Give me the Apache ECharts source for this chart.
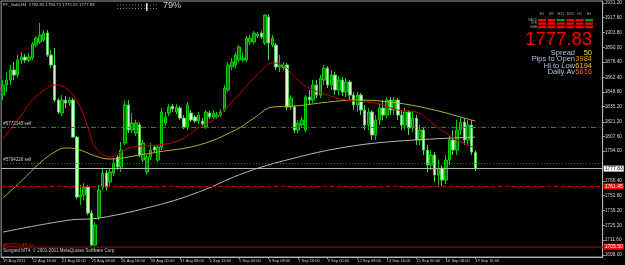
<!DOCTYPE html>
<html><head><meta charset="utf-8">
<script src="https://cdn.jsdelivr.net/npm/echarts@6/dist/echarts.min.js"></script>
<style>html,body{margin:0;padding:0;background:#000;}#c{width:625px;height:265px;}</style>
</head><body><div id="c"></div>
<script>
// ---- data ----
const OPEN = [
1845.9,1855.2,1859.8,1869.1,1864.5,1878.3,1881.1,1878.3,1880.2,1892.2,
1895.0,1896.9,1903.3,1883.0,1873.7,1841.3,1829.3,1841.3,1838.5,1841.3,
1807.0,1751.5,1753.3,1760.7,1736.7,1707.0,1733.0,1760.7,1773.7,1765.4,
1773.7,1788.5,1779.3,1801.5,1836.7,1813.5,1810.7,1818.2,1785.7,1774.6,
1788.5,1797.8,1785.7,1797.8,1820.0,1829.3,1835.7,1830.2,1833.9,1824.6,
1816.3,1829.3,1825.6,1821.9,1821.9,1816.3,1829.3,1825.6,1825.6,1827.4,
1832.0,1850.6,1871.9,1873.7,1878.3,1878.3,1878.3,1895.0,1895.0,1900.6,
1903.3,1894.1,1918.2,1892.2,1892.2,1871.9,1871.0,1873.7,1834.8,1834.8,
1813.5,1818.2,1813.5,1844.1,1841.3,1855.2,1845.9,1859.8,1870.9,1855.2,
1864.5,1850.6,1859.8,1848.7,1858.0,1845.9,1836.7,1845.9,1832.0,1818.2,
1830.2,1808.9,1822.8,1833.9,1827.4,1841.3,1832.0,1841.3,1827.4,1818.2,
1830.2,1815.4,1824.6,1804.3,1813.5,1795.0,1781.1,1790.4,1771.9,1778.3,
1767.2,1785.7,1804.3,1795.0,1813.5,1820.9,1804.3,1818.2,1792.85];
const CLOSE = [
1855.2,1859.8,1869.1,1864.5,1878.3,1881.1,1878.3,1881.1,1893.2,1898.7,
1901.5,1903.3,1883.0,1873.7,1841.3,1830.2,1841.3,1838.5,1841.3,1807.0,
1751.5,1753.3,1760.7,1736.7,1707.0,1725.6,1758.0,1773.7,1760.7,1774.6,
1783.0,1779.3,1795.0,1836.7,1813.5,1820.0,1820.0,1790.4,1801.5,1788.5,
1795.0,1795.0,1797.8,1830.2,1825.6,1834.8,1833.0,1834.8,1824.6,1816.3,
1836.7,1822.8,1821.9,1827.4,1819.1,1830.2,1825.6,1829.3,1827.4,1830.2,
1852.4,1873.7,1876.5,1883.0,1890.4,1880.2,1898.7,1898.7,1903.3,1902.4,
1899.6,1920.0,1894.1,1898.7,1871.9,1873.7,1873.7,1834.8,1843.1,1813.5,
1820.0,1822.8,1844.1,1841.3,1855.2,1845.9,1861.7,1870.9,1855.2,1864.5,
1850.6,1859.8,1848.7,1858.0,1845.9,1836.7,1845.9,1832.0,1818.2,1830.2,
1808.9,1822.8,1833.9,1827.4,1841.3,1832.0,1841.3,1827.4,1818.2,1830.2,
1815.4,1824.6,1804.3,1813.5,1795.0,1781.1,1790.4,1771.9,1778.3,1767.2,
1785.7,1804.3,1795.0,1813.5,1820.9,1804.3,1818.2,1793.2,1777.83];
const HIGH = [
1859.8,1867.2,1873.7,1876.5,1883.0,1885.7,1883.9,1884.8,1895.0,1900.6,
1912.6,1906.1,1906.1,1887.6,1889.5,1843.1,1846.0,1845.0,1844.1,1843.1,
1808.0,1762.6,1764.4,1762.6,1739.4,1728.3,1762.6,1778.3,1776.5,1778.3,
1787.6,1790.4,1802.4,1841.3,1841.3,1829.3,1822.8,1820.9,1804.3,1790.4,
1801.5,1799.6,1799.6,1833.9,1830.2,1837.6,1837.6,1837.6,1835.7,1827.4,
1839.4,1832.0,1827.4,1830.2,1824.6,1832.0,1831.1,1832.0,1830.2,1833.0,
1855.2,1876.5,1880.2,1885.7,1892.2,1885.7,1900.6,1901.5,1905.2,1904.3,
1905.2,1920.9,1920.9,1901.5,1894.1,1883.0,1876.5,1875.6,1845.9,1836.7,
1822.8,1825.6,1845.9,1850.6,1859.8,1859.8,1864.5,1873.7,1872.8,1869.1,
1867.2,1863.5,1862.6,1861.7,1859.8,1848.7,1848.7,1847.8,1836.7,1833.9,
1832.0,1827.4,1838.5,1841.3,1844.1,1844.1,1844.1,1843.1,1832.0,1833.9,
1832.0,1830.2,1827.4,1818.2,1815.4,1799.6,1795.0,1793.2,1785.7,1781.1,
1790.4,1808.9,1813.5,1822.8,1824.6,1824.6,1822.8,1822.8,1794.71];
const LOW = [
1841.3,1848.7,1855.2,1859.8,1861.7,1874.6,1875.6,1876.5,1878.3,1890.4,
1893.2,1895.0,1881.1,1871.0,1839.4,1828.3,1826.5,1833.9,1835.7,1806.1,
1749.6,1744.1,1748.7,1734.8,1705.2,1702.4,1730.2,1758.0,1758.0,1761.7,
1770.9,1776.5,1774.6,1799.6,1810.7,1810.7,1808.0,1788.5,1783.9,1771.9,
1785.7,1793.2,1783.9,1795.0,1817.2,1826.5,1830.2,1828.3,1822.8,1814.4,
1813.5,1820.9,1820.0,1819.1,1817.2,1814.4,1823.7,1823.7,1823.7,1825.6,
1830.2,1848.7,1869.1,1871.0,1876.5,1876.5,1876.5,1892.2,1893.2,1898.7,
1897.8,1892.2,1878.3,1890.4,1869.1,1867.2,1869.1,1832.0,1832.0,1810.7,
1810.7,1815.4,1811.7,1836.7,1838.5,1843.1,1843.1,1855.2,1852.4,1850.6,
1845.9,1845.9,1845.0,1844.1,1841.3,1832.0,1830.2,1827.4,1813.5,1813.5,
1804.3,1804.3,1818.2,1822.8,1824.6,1827.4,1827.4,1822.8,1813.5,1813.5,
1808.9,1811.7,1799.6,1799.6,1790.4,1774.6,1776.5,1765.4,1762.6,1761.7,
1763.5,1781.1,1790.4,1790.4,1808.9,1799.6,1799.6,1790.4,1775.55];

// moving-average lines, read at a few bars
const RED_MA_BAR = [0,5,8,12,14,17,20,23,25,29,32,35,42,48,53,57,60,65,71,73,76,79,83,88,93,101,107,112,117,123,128];
const RED_MA = [1805.2,1827.4,1841.3,1852.4,1855.2,1852.4,1841.3,1816.3,1797.8,1788.5,1793.2,1797.8,1799.6,1804.3,1815.4,1822.8,1832.0,1850.6,1871.9,1875.6,1873.7,1862.6,1852.4,1845.9,1841.3,1838.5,1832.0,1830.2,1818.2,1804.3,1796.9];
const YEL_MA_BAR = [0,5,10,14,17,20,25,29,37,42,53,63,68,73,79,88,96,107,117,125,128];
const YEL_MA = [1750.6,1766.3,1783.0,1793.2,1796.9,1796.0,1789.5,1786.7,1790.4,1793.2,1799.6,1813.5,1824.6,1834.8,1835.7,1839.4,1841.3,1838.5,1832.0,1824.6,1821.9];
const GREY_MA_BAR = [0,18,26,42,53,66,80,93,107,128];
const GREY_MA = [1719.1,1730.2,1732.0,1744.1,1756.1,1774.6,1788.5,1797.8,1803.3,1807.0];

// horizontal levels
const LEVEL_PRICES = [1816.3, 1783.0, 1777.83, 1761.45, 1705.50];
const LEVEL_NAMES = ['#5772145 sell', '#5794226 sell', '', '', ''];

// axis labels
const Y_TICKS = [1931.20,1917.60,1903.80,1890.00,1876.40,1862.40,1848.80,1835.20,1821.20,1807.60,1794.00,1766.40,1752.80,1739.20,1725.20,1711.60,1698.00];
const X_LABEL_BARS = [0,8,16,24,32,40,48,56,64,72,80,88,96,104,112,120,128];
const X_LABELS = ['19 Aug 2011','22 Aug 16:00','24 Aug 00:00','25 Aug 08:00','26 Aug 16:00','30 Aug 00:00','31 Aug 08:00','1 Sep 16:00','5 Sep 00:00','6 Sep 08:00','7 Sep 16:00','9 Sep 00:00','12 Sep 08:00','13 Sep 16:00','15 Sep 00:00','16 Sep 08:00','19 Sep 16:00'];

// panel texts
const TITLE = 'FT_Gold,H4  1792.85 1794.71 1775.55 1777.83';
const PROGRESS = '79%';
const TF_NAMES = ['M1','M5','M15','M30','H1','H4'];
const ROW_NAMES = ['MACD','STR','EMA'];
const STATUS = [[0,0,1,0,0,1],[0,0,0,0,0,0],[0,0,0,0,0,0]];
const BIG_PRICE = '1777.83';
const INFO_NAMES = ['Spread','Pips to Open','Hi to Low','Daily Av'];
const INFO_VALUES = ['50','3984','6194','5616'];
const COPYRIGHT = 'Sungard MT4, \u00a9 2001-2011 MetaQuotes Software Corp.';
const TP_TEXT = '#5772145 tp';

// ---- chart ----
const FONT = 'Liberation Sans';
const N_SLOTS = 163;
const categories = Array.from({length: N_SLOTS}, (_, i) => String(i));
const labelAt = {};
X_LABEL_BARS.forEach((b, k) => { labelAt[b] = X_LABELS[k]; });
const candles = OPEN.map((o, i) => [o, CLOSE[i], LOW[i], HIGH[i]]);
const pairs = (bars, vals) => bars.map((b, k) => [b, vals[k]]);

const levelStyles = [
  {lineStyle: {color: '#00a000', type: [5, 2, 1, 2], width: 1}, label: {position: 'insideStartTop', color: '#c8c8c8', fontSize: 4.5}},
  {lineStyle: {color: '#00a000', type: [1, 2], width: 1}, label: {position: 'insideStartTop', color: '#c8c8c8', fontSize: 4.5}},
  {lineStyle: {color: '#b4b4b4', type: 'solid', width: 1}, label: {position: 'end', backgroundColor: '#ffffff', color: '#000'}},
  {lineStyle: {color: '#c00000', type: [4, 3], width: 1}, label: {position: 'end', backgroundColor: '#ff0000', color: '#fff'}},
  {lineStyle: {color: '#7a0000', type: 'solid', width: 1.5}, label: {position: 'end', backgroundColor: '#ff0000', color: '#fff'}}
];
const markData = LEVEL_PRICES.map((p, k) => ({
  yAxis: p,
  lineStyle: levelStyles[k].lineStyle,
  label: Object.assign({show: true, fontSize: 5, fontFamily: FONT, distance: 1, padding: [1, 1, 0, 1],
    formatter: LEVEL_NAMES[k] || p.toFixed(2)}, levelStyles[k].label)
}));

const graphics = [];
graphics.push({type: 'text', x: 3, y: 5, style: {text: TITLE, fill: '#d0d0d0', fontSize: 4.3, fontFamily: FONT, verticalAlign: 'middle'}});
graphics.push({type: 'line', shape: {x1: 117, y1: 5, x2: 158, y2: 5}, style: {stroke: '#808080', lineDash: [1, 2], lineWidth: 1}});
graphics.push({type: 'line', shape: {x1: 117, y1: 8.5, x2: 158, y2: 8.5}, style: {stroke: '#808080', lineDash: [1, 2], lineWidth: 1}});
graphics.push({type: 'rect', shape: {x: 146, y: 3, width: 1.5, height: 8}, style: {fill: '#e0e0e0'}});
graphics.push({type: 'text', x: 163, y: 6, style: {text: PROGRESS, fill: '#d0d0d0', fontSize: 9, fontFamily: FONT, verticalAlign: 'middle'}});
TF_NAMES.forEach((n, c) => {
  graphics.push({type: 'text', x: 542 + c * 9.4, y: 14, style: {text: n, fill: '#a0a0a0', fontSize: 3.5, fontFamily: FONT, align: 'center', verticalAlign: 'middle'}});
});
ROW_NAMES.forEach((n, r) => {
  graphics.push({type: 'text', x: 537, y: 20 + r * 3.5, style: {text: n, fill: '#a0a0a0', fontSize: 3, fontFamily: FONT, align: 'right', verticalAlign: 'middle'}});
  STATUS[r].forEach((s, c) => {
    graphics.push({type: 'rect', shape: {x: 538 + c * 9.4, y: 19 + r * 3.5, width: 8, height: 2.3}, style: {fill: s ? '#00a000' : '#ff0000'}});
  });
});
graphics.push({type: 'text', x: 592, y: 40, style: {text: BIG_PRICE, fill: '#ff0000', fontSize: 18.5, fontFamily: FONT, align: 'right', verticalAlign: 'middle'}});
const infoY = [52.5, 59, 65.5, 72];
const infoColors = ['#ffd700', '#ff8c00', '#ffc000', '#ff6030'];
INFO_NAMES.forEach((n, k) => {
  graphics.push({type: 'text', x: 575, y: infoY[k], style: {text: n, fill: '#b0c4de', fontSize: 7.5, fontFamily: FONT, align: 'right', verticalAlign: 'middle'}});
  graphics.push({type: 'text', x: 592, y: infoY[k], style: {text: INFO_VALUES[k], fill: infoColors[k], fontSize: 7.5, fontFamily: FONT, align: 'right', verticalAlign: 'middle'}});
});
graphics.push({type: 'text', x: 3, y: 245.5, style: {text: TP_TEXT, fill: '#ff0000', fontSize: 5.5, fontFamily: FONT, verticalAlign: 'middle'}});
graphics.push({type: 'text', x: 3, y: 251, style: {text: COPYRIGHT, fill: '#c8c8c8', fontSize: 4.5, fontFamily: FONT, verticalAlign: 'middle'}});

const chart = echarts.init(document.getElementById('c'), null, {renderer: 'canvas'});
chart.setOption({
  backgroundColor: '#000',
  animation: false,
  grid: {left: 0, right: 17, top: 1, bottom: 8, show: true, borderColor: '#a0a0a0', borderWidth: 1, backgroundColor: '#000'},
  xAxis: {
    type: 'category', data: categories, boundaryGap: true,
    axisLine: {show: true, lineStyle: {color: '#b0b0b0'}},
    axisTick: {show: true, alignWithLabel: true, interval: (i) => (i in labelAt), length: 2, lineStyle: {color: '#b0b0b0'}},
    axisLabel: {show: true, interval: (i) => (i in labelAt), formatter: (v) => labelAt[+v] || '', align: 'left',
      color: '#d0d0d0', fontSize: 4, fontFamily: FONT, margin: 2, hideOverlap: false},
    splitLine: {show: false}
  },
  yAxis: {
    type: 'value', position: 'right', min: 1696, max: 1933,
    axisLine: {show: true, lineStyle: {color: '#b0b0b0'}},
    axisTick: {show: true, customValues: Y_TICKS, length: 2, lineStyle: {color: '#b0b0b0'}},
    axisLabel: {customValues: Y_TICKS, formatter: (v) => v.toFixed(2), color: '#d0d0d0', fontSize: 4.8, fontFamily: FONT, margin: 2},
    splitLine: {show: false}
  },
  series: [
    {type: 'candlestick', data: candles, barWidth: 3,
      itemStyle: {color: '#007a00', color0: '#d8ffd8', borderColor: '#00d000', borderColor0: '#50d050', borderWidth: 1}},
    {type: 'line', data: pairs(GREY_MA_BAR, GREY_MA), smooth: 0.4, showSymbol: false, lineStyle: {color: '#b8b8b8', width: 1}},
    {type: 'line', data: pairs(YEL_MA_BAR, YEL_MA), smooth: 0.4, showSymbol: false, lineStyle: {color: '#b0b030', width: 1}},
    {type: 'line', data: pairs(RED_MA_BAR, RED_MA), smooth: 0.4, showSymbol: false, lineStyle: {color: '#c00000', width: 1}},
    {type: 'line', data: [], markLine: {symbol: ['none', 'none'], silent: true, animation: false, data: markData}}
  ],
  graphic: graphics
});
</script></body></html>
